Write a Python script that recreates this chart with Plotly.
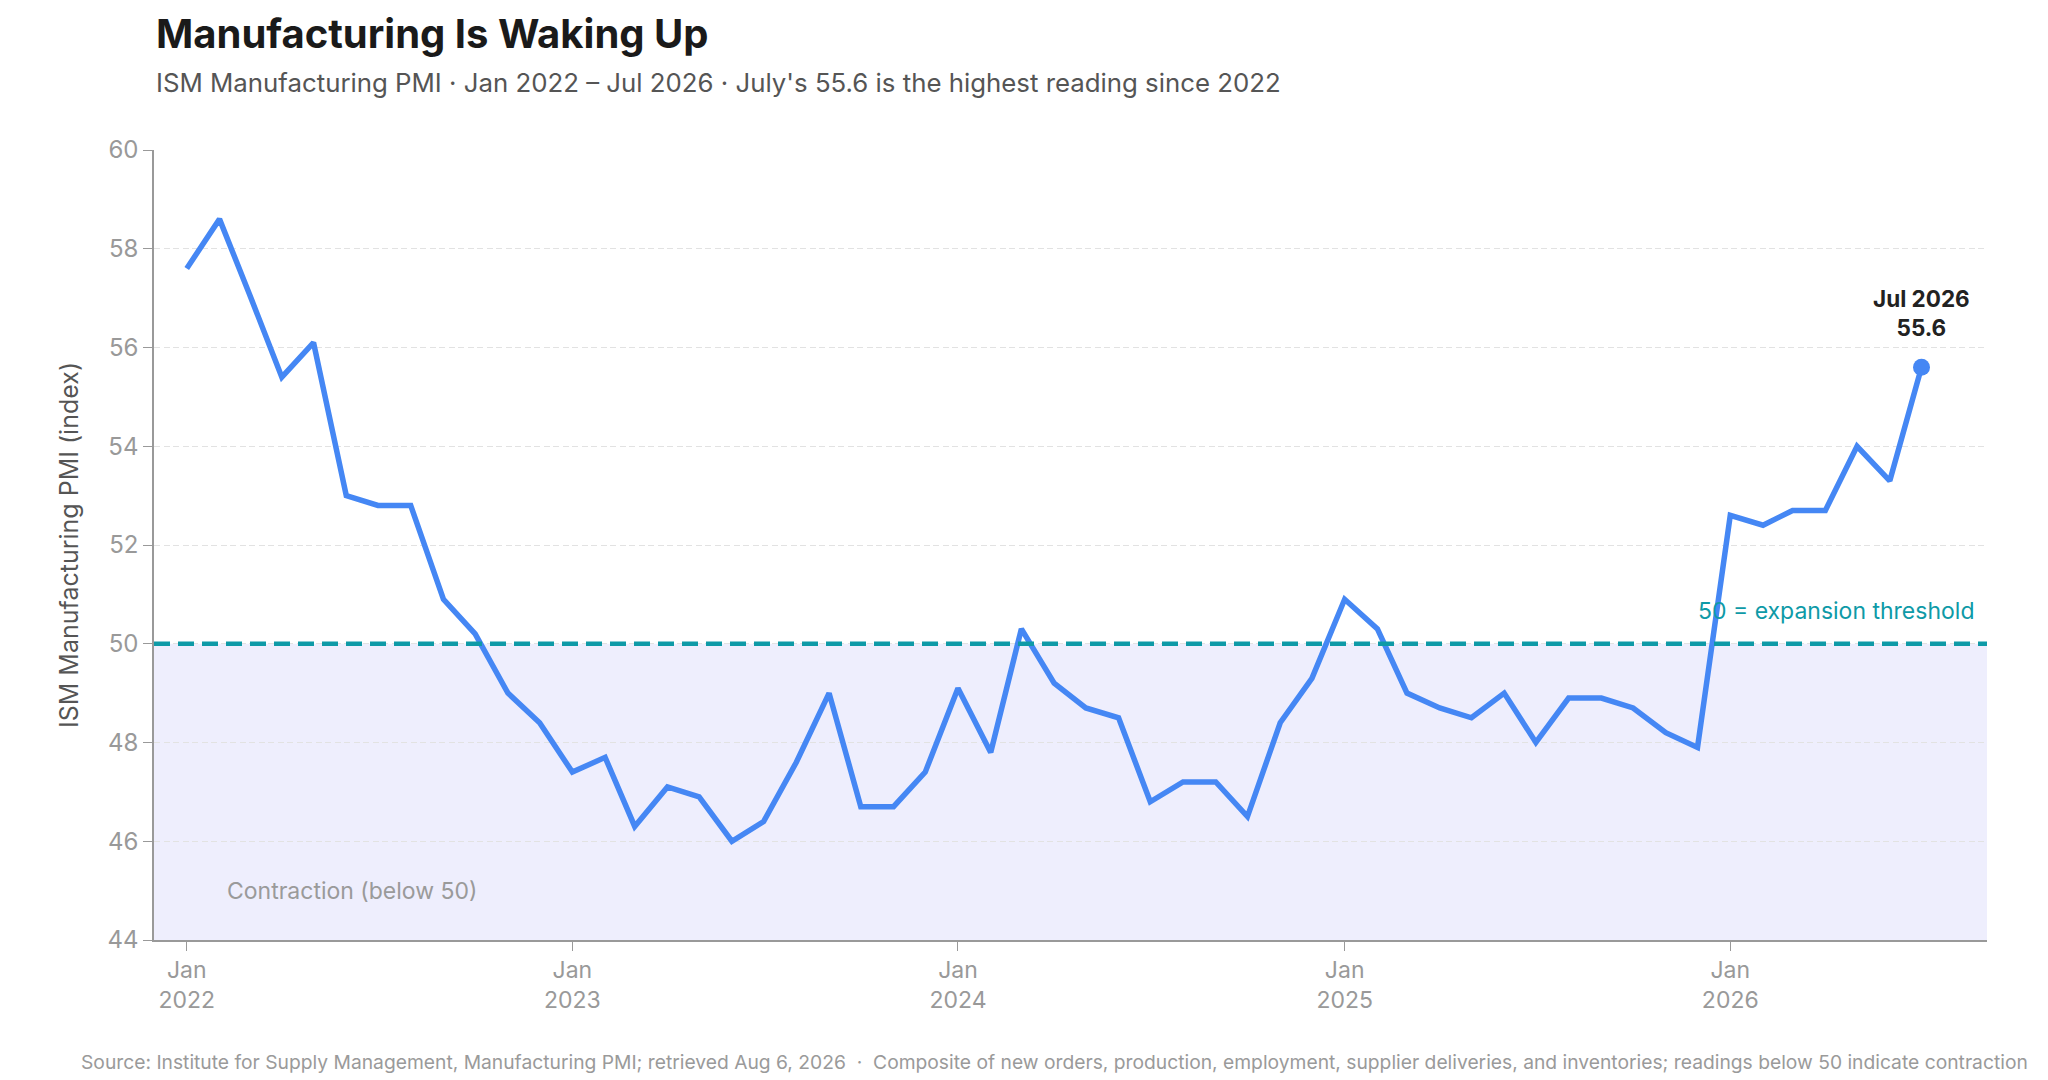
import plotly.graph_objects as go

# ISM Manufacturing PMI, monthly, Jan 2022 - Jul 2026
months = [f"{y}-{m:02d}-01" for y in range(2022, 2027) for m in range(1, 13)][:55]
pmi = [
    57.6, 58.6, 57.1, 55.4, 56.1, 53.0, 52.8, 52.8, 50.9, 50.2, 49.0, 48.4,  # 2022
    47.4, 47.7, 46.3, 47.1, 46.9, 46.0, 46.4, 47.6, 49.0, 46.7, 46.7, 47.4,  # 2023
    49.1, 47.8, 50.3, 49.2, 48.7, 48.5, 46.8, 47.2, 47.2, 46.5, 48.4, 49.3,  # 2024
    50.9, 50.3, 49.0, 48.7, 48.5, 49.0, 48.0, 48.9, 48.9, 48.7, 48.2, 47.9,  # 2025
    52.6, 52.4, 52.7, 52.7, 54.0, 53.3, 55.6,                                # 2026
]
threshold = 50
y_ticks = [44, 46, 48, 50, 52, 54, 56, 58, 60]
x_ticks = ["2022-01-01", "2023-01-01", "2024-01-01", "2025-01-01", "2026-01-01"]

FONT = "Inter"
BLUE = "#4587f4"
TEAL = "#0e9aa7"

fig = go.Figure()

# contraction zone shading
fig.add_shape(type="rect", xref="paper", yref="y", x0=0, x1=1, y0=44, y1=threshold,
              fillcolor="#eeeefd", line_width=0, layer="below")

fig.add_hline(y=threshold, line=dict(color=TEAL, width=4.5, dash="16px,8px"))

fig.add_trace(go.Scatter(
    x=months, y=pmi, mode="lines",
    line=dict(color=BLUE, width=5.5),
    hovertemplate="%{x|%b %Y}: %{y}<extra></extra>",
    showlegend=False,
))

# highlight latest reading
fig.add_trace(go.Scatter(
    x=[months[-1]], y=[pmi[-1]], mode="markers",
    marker=dict(color=BLUE, size=17),
    hoverinfo="skip", showlegend=False,
))

fig.add_annotation(x=months[-1], y=pmi[-1], text=f"<b>Jul 2026<br>{pmi[-1]}</b>",
                   showarrow=False, yanchor="bottom", yshift=24,
                   font=dict(family=FONT, size=22.5, color="#222222"))

fig.add_annotation(xref="paper", x=0.994, y=threshold, text="50 = expansion threshold",
                   showarrow=False, xanchor="right", yanchor="bottom", yshift=17,
                   font=dict(family=FONT, size=23, color=TEAL))

fig.add_annotation(xref="paper", x=0.039, y=45, text="Contraction (below 50)",
                   showarrow=False, xanchor="left", yanchor="middle",
                   font=dict(family=FONT, size=23, color="#9a9a9a"))

# title block and footer
fig.add_annotation(xref="paper", yref="paper", x=0, y=1.148, text="<b>Manufacturing Is Waking Up</b>",
                   showarrow=False, xanchor="left", yanchor="middle",
                   font=dict(family=FONT, size=40, color="#1a1a1a"))
fig.add_annotation(xref="paper", yref="paper", x=0, y=1.085,
                   text="ISM Manufacturing PMI · Jan 2022 – Jul 2026 · July's 55.6 is the highest reading since 2022",
                   showarrow=False, xanchor="left", yanchor="middle",
                   font=dict(family=FONT, size=25.8, color="#555555"))
fig.add_annotation(xref="paper", yref="paper", x=-0.0407, y=-0.154,
                   text="Source: Institute for Supply Management, Manufacturing PMI; retrieved Aug 6, 2026  ·  "
                        "Composite of new orders, production, employment, supplier deliveries, and inventories; "
                        "readings below 50 indicate contraction",
                   showarrow=False, xanchor="left", yanchor="middle",
                   font=dict(family=FONT, size=19.25, color="#9a9a9a"))

fig.update_layout(
    width=2048, height=1080,
    margin=dict(l=146, r=69, t=142, b=148),
    plot_bgcolor="white", paper_bgcolor="white",
    font=dict(family=FONT, size=24, color="#999999"),
    hovermode="closest",
)

fig.update_xaxes(
    range=["2021-12-01", "2026-09-01"],
    tickvals=x_ticks, tickformat="%b<br>%Y",
    showgrid=False, showline=True, linecolor="#999999", linewidth=1.5,
    ticks="outside", ticklen=9, tickcolor="#999999", tickwidth=1.2,
    tickfont=dict(size=23, color="#999999"),
)
fig.update_yaxes(
    range=[44, 60], tickvals=y_ticks,
    showgrid=True, gridcolor="#e2e2e2", gridwidth=1.3, griddash="6px,3.5px",
    showline=True, linecolor="#999999", linewidth=1.5,
    ticks="outside", ticklen=9, tickcolor="#999999", tickwidth=1.2,
    tickfont=dict(size=24, color="#999999"),
    zeroline=False,
    title=dict(text="ISM Manufacturing PMI (index)", standoff=22,
               font=dict(size=25, color="#555555")),
)

fig.write_html("out.html")
